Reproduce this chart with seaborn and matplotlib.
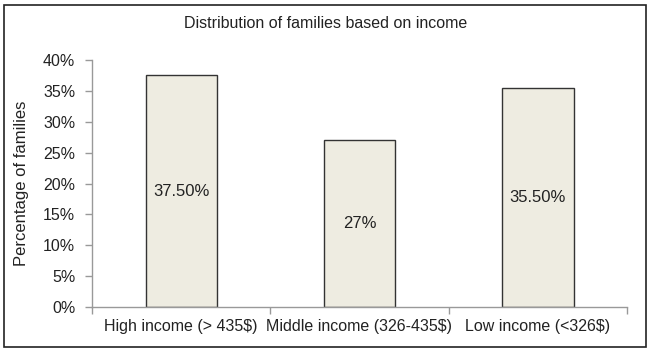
import numpy as np
import pandas as pd
import matplotlib.pyplot as plt
import seaborn as sns
from matplotlib.patches import Rectangle
from matplotlib.ticker import PercentFormatter

categories = ['High income (> 435$)', 'Middle income (326-435$)', 'Low income (<326$)']
shares = [37.5, 27.0, 35.5]
bar_labels = ['37.50%', '27%', '35.50%']


def main():
    df = pd.DataFrame({'category': categories, 'share': shares})

    sns.set_theme(style="white")
    plt.rcParams['font.family'] = ['Liberation Sans', 'DejaVu Sans']

    fig = plt.figure(figsize=(6.52, 3.53), dpi=100)
    ax = fig.add_axes([92 / 652, 1 - 307 / 353, 535 / 652, 247 / 353])

    sns.barplot(data=df, x='category', y='share', ax=ax, width=0.4,
                color='#EEECE1', edgecolor='#333333', linewidth=1.0, saturation=1)

    # labels in the middle of each bar
    for i, (v, lab) in enumerate(zip(shares, bar_labels)):
        ax.text(i, v / 2, lab, ha='center', va='center', fontsize=12, color='#222222')

    ax.set_xlim(-0.5, 2.5)
    ax.set_ylim(0, 40)
    ax.set_yticks(np.arange(0, 41, 5))
    ax.yaxis.set_major_formatter(PercentFormatter(decimals=0))
    ax.set_xticks([0, 1, 2])
    ax.set_xticklabels(categories)
    ax.tick_params(axis='x', length=0, labelsize=11.5, pad=9, colors='#222222')
    ax.tick_params(axis='y', length=5, width=1, color='#999999', labelsize=11.5,
                   labelcolor='#222222', left=True, pad=7)
    # category boundary ticks on the x axis
    ax.set_xticks([-0.5, 0.5, 1.5, 2.5], minor=True)
    ax.tick_params(axis='x', which='minor', length=5, width=1, color='#999999', bottom=True)

    for side in ['top', 'right']:
        ax.spines[side].set_visible(False)
    for side in ['left', 'bottom']:
        ax.spines[side].set_color('#999999')
        ax.spines[side].set_linewidth(1)

    ax.set_xlabel('')
    ax.set_ylabel('Percentage of families', fontsize=12, color='#222222', labelpad=10)
    fig.text(0.5, 1 - 24 / 353, 'Distribution of families based on income',
             ha='center', va='center', fontsize=11.5, color='#222222')

    # outer frame
    fig.patches.append(Rectangle((4 / 652, 1 - 347 / 353), 642 / 652, 342 / 353,
                                 transform=fig.transFigure, fill=False,
                                 edgecolor='#222222', linewidth=1.2))

    fig.savefig('out.png', dpi=100)
    plt.close(fig)


if __name__ == '__main__':
    main()
